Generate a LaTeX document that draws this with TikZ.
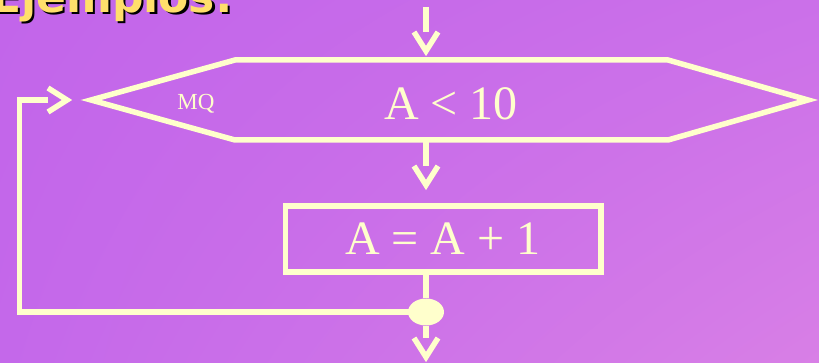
\documentclass[tikz,border=0pt]{standalone}
\usepackage{fontspec}
\setmainfont{Liberation Serif}
\newfontfamily\titlefont{DejaVu Sans}
\usetikzlibrary{arrows.meta, calc, shapes.geometric, shadings}
\definecolor{cream}{HTML}{FFFFCC}
\definecolor{gold}{HTML}{FFDF6B}
\definecolor{bgA}{HTML}{C265EA}
\definecolor{bgB}{HTML}{CB70E9}
\definecolor{bgC}{HTML}{C468EA}
\definecolor{bgD}{HTML}{D87FE6}

\begin{document}
\begin{tikzpicture}[x=1pt, y=-1pt,
	    flow/.style={cream, line width=5.5pt, line join=miter},
	    barb/.pic={\draw[flow] (-19,-12) -- (0,0) -- (-19,12);},
	    title/.style={anchor=base west, font=\titlefont\bfseries\fontsize{44}{44}\selectfont},
	    every node/.style={text=cream, inner sep=0pt}
	  ]
	  \useasboundingbox (0,0) rectangle (819,363);
	  \clip (0,0) rectangle (819,363);
	  \shade[upper left=bgA, upper right=bgB, lower left=bgC, lower right=bgD]
	    (0,0) rectangle (819,363);
	 
	  % title, cut at the top
	  \node[title, text=black] (ttlS) at (-6.5,14.5) {Ejemplos:};
	  \node[title, text=gold] (ttl) at (-9,12.5) {Ejemplos:};
	 
	  % loop test
	  \coordinate (hxW) at (91,100);
	  \coordinate (hxN) at (426,60);
	  \coordinate (hxS) at (426,140);
	  \draw[flow] (hxW) -- (235,60) -- (668,60) -- (808,100) -- (668,140) -- (235,140) -- cycle;
	  \node[font=\fontsize{23}{23}\selectfont] (mq) at (196,104) {MQ};
	  \node[font=\fontsize{48}{48}\selectfont] (cond) at (451,104) {A < 10};
	 
	  % body
	  \node[draw=cream, line width=5.5pt, minimum width=315.5pt, minimum height=66pt,
	    font=\fontsize{48}{48}\selectfont] (upd) at (443,239) {A = A + 1};
	  \node[ellipse, fill=cream, minimum width=36pt, minimum height=27pt] (jn) at (426,312) {};
	 
	  \coordinate (inTop) at (426,7);
	  \coordinate (tipT) at (426,51);
	  \coordinate (tipM) at (426,185);
	  \coordinate (tipB) at (426,357);
	  \coordinate (tipL) at (67,100);
	  \coordinate (loopB) at (19.5,312);
	 
	  \draw[flow, shorten >=19pt] (inTop) -- (tipT);
	  \draw[flow, shorten >=19pt] (hxS) -- (tipM);
	  \draw[flow] (jn |- upd.south) -- (jn);
	  \draw[flow, shorten >=19pt] (jn) -- (tipB);
	  \draw[flow, shorten >=19pt] (jn.center) -- (loopB) |- (tipL);
	 
	  \foreach \t in {tipT,tipM,tipB} \pic[rotate=-90] at (\t) {barb};
	  \pic at (tipL) {barb};
	\end{tikzpicture}
\end{document}
